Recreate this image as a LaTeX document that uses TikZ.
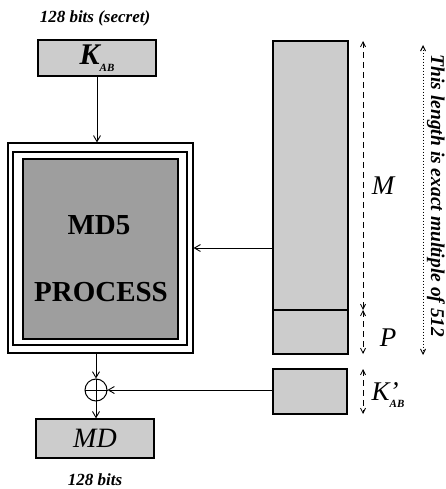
\documentclass[tikz,border=0pt]{standalone}
\usepackage{fontspec}
\setmainfont{Liberation Serif}
\usetikzlibrary{arrows.meta}
\definecolor{lightfill}{gray}{0.80}
\definecolor{darkfill}{gray}{0.62}
\tikzset{
  box/.style={draw=black, line width=1.3pt, fill=lightfill, inner sep=0pt, minimum width=#1},
  frame/.style={draw=black, line width=1.2pt, inner sep=0pt},
  flow/.style={line width=0.9pt, -{Straight Barb[length=6pt,width=7pt,line width=0.9pt]}},
  dimline/.style={line width=0.8pt, dash pattern=on 6pt off 4pt, {Straight Barb[length=5pt,width=5pt]}-{Straight Barb[length=5pt,width=5pt]}},
  dotline/.style={line width=1pt, dash pattern=on 1.2pt off 1.8pt, {Straight Barb[length=5pt,width=5pt]}-{Straight Barb[length=5pt,width=5pt]}},
  lab/.style={font=\fontsize{17}{19}\selectfont\bfseries\itshape, inner sep=0pt},
  biglab/.style={font=\fontsize{28}{30}\selectfont\itshape, inner sep=0pt}
}
\begin{document}
\begin{tikzpicture}[x=1pt,y=-1pt]
\useasboundingbox[fill=white] (0,0) rectangle (446,489);
% top key
\node[lab] (sec) at (95,18) {128 bits (secret)};
\node[box=118pt, minimum height=36pt] (kab) at (97,58) {};
\node[inner sep=0pt] (kabt) at (97,58) {{\fontsize{30}{30}\selectfont\bfseries\itshape K}\raisebox{-7pt}{\fontsize{11}{11}\selectfont\bfseries\itshape AB}};
% MD5 process frames
\node[frame, minimum width=185pt, minimum height=210pt] (outer) at (100.5,248) {};
\node[frame, minimum width=174pt, minimum height=193pt] (middle) at (100,248.5) {};
\node[frame, line width=1.5pt, fill=darkfill, minimum width=155pt, minimum height=180pt] (inner) at (100.5,249) {};
\node[inner sep=0pt, font=\fontsize{29}{31}\selectfont\bfseries] (md5) at (99,225) {MD5};
\node[inner sep=0pt, font=\fontsize{29}{31}\selectfont\bfseries] (proc) at (101,292) {PROCESS};
% xor
\node[circle, draw=black, line width=1pt, minimum size=22pt, inner sep=0pt] (xor) at (96,390) {};
\draw[line width=1pt] (xor.north) -- (xor.south) (xor.west) -- (xor.east);
% MD output
\node[box=118pt, minimum height=39pt] (md) at (95,438.5) {};
\node[biglab] (mdt) at (95,438.5) {MD};
\node[lab] (bits) at (95,480) {128 bits};
% right column
\node[box=75pt, minimum height=269pt] (mbox) at (310.5,175.5) {};
\node[box=75pt, minimum height=44pt] (pbox) at (310.5,332) {};
\node[box=74pt, minimum height=45pt] (kbox) at (310,391.5) {};
% connectors
\draw[flow] (kab.south) -- (kab.south |- outer.north);
\draw[flow] (outer.east -| mbox.west) -- (outer.east);
\draw[flow] (xor.north |- outer.south) -- (xor.north);
\draw[flow] (xor.south) -- (xor.south |- md.north);
\draw[flow] (xor.east -| kbox.west) -- (xor.east);
% dimension lines
\coordinate (d1) at (363,41);
\coordinate (d2) at (363,310);
\coordinate (d3) at (363,354);
\coordinate (d4) at (363,369);
\coordinate (d5) at (363,414);
\draw[dimline] (d1) -- (d2);
\draw[dimline] (d2) -- (d3);
\draw[dimline] (d4) -- (d5);
\node[biglab, font=\fontsize{27}{29}\selectfont\itshape] (ml) at (383,186) {M};
\node[biglab, font=\fontsize{27}{29}\selectfont\itshape] (pl) at (388,338) {P};
\node[inner sep=0pt] (kl) at (388,395) {{\fontsize{27}{29}\selectfont\itshape K\rlap{’}}\raisebox{-7pt}{\fontsize{11}{11}\selectfont\bfseries\itshape AB}};
\coordinate (e1) at (423,45);
\coordinate (e2) at (423,355);
\draw[dotline] (e1) -- (e2);
\node[inner sep=0pt, rotate=-90, font=\fontsize{19.5}{21}\selectfont\bfseries\itshape] (len) at (436,196) {This length is exact multiple of 512};
\end{tikzpicture}
\end{document}
